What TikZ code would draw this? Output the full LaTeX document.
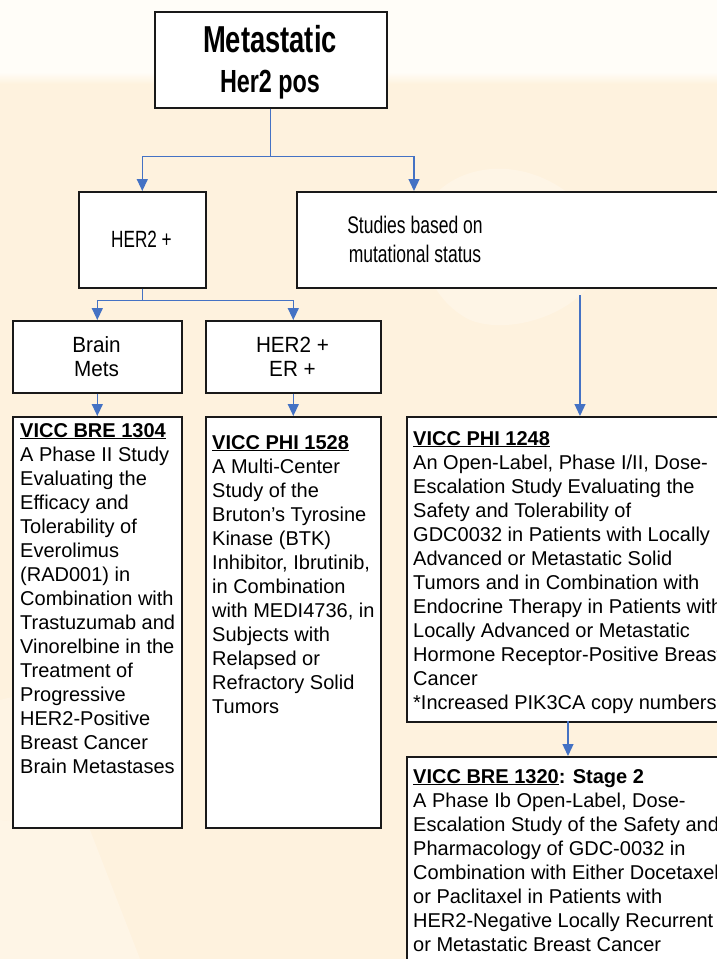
\documentclass[tikz,border=0pt]{standalone}
\usepackage{fontspec}
\setmainfont{Liberation Sans}
\newfontfamily\narrowfont[FakeStretch=0.73]{Liberation Sans}
\newfontfamily\midfont[FakeStretch=0.94]{Liberation Sans}
\usetikzlibrary{arrows.meta}
\definecolor{bgcream}{HTML}{FEF2DE}
\definecolor{bgtop}{HTML}{FFFDF8}
\definecolor{bglight}{HTML}{FFF6E8}
\definecolor{arrowblue}{HTML}{4472C4}
\begin{document}
\begin{tikzpicture}[x=1pt,y=-1pt,
  box/.style={draw=black!90, line width=1.6pt, fill=white, rectangle, inner sep=0pt, anchor=north west},
  arr/.style={draw=arrowblue, line width=1.3pt, -{Triangle[length=12pt,width=11pt]}},
  bodytext/.style={anchor=base west, inner sep=0pt, align=left, font=\fontsize{20}{24}\selectfont},
  headtext/.style={anchor=base, inner sep=0pt, align=center},
]
\useasboundingbox (0,0) rectangle (717,959);
\clip (0,0) rectangle (717,959);
% background
\fill[bgcream] (0,0) rectangle (717,959);
\fill[bglight, opacity=0.8] (430,200) .. controls (470,150) and (560,160) .. (600,230) .. controls (620,300) and (520,340) .. (470,320) .. controls (430,300) and (410,250) .. (430,200) -- cycle;
\fill[bglight, opacity=0.8] (0,820) -- (90,830) -- (140,959) -- (0,959) -- cycle;
\fill[bglight, opacity=0.6] (0,700) -- (40,690) -- (90,830) -- (0,820) -- cycle;
\shade[top color=bgtop, bottom color=bgcream] (0,72) rectangle (717,84);
\fill[bgtop] (0,0) rectangle (717,72.5);

% boxes
\node[box, minimum width=232pt, minimum height=96pt] (top) at (154,11) {};
\node[box, minimum width=127pt, minimum height=96pt] (her) at (78,191) {};
\node[box, minimum width=444pt, minimum height=96pt] (stud) at (296,191) {};
\node[box, minimum width=169pt, minimum height=72pt] (brain) at (12,320) {};
\node[box, minimum width=175pt, minimum height=72pt] (erpos) at (205,320) {};
\node[box, minimum width=169pt, minimum height=411pt] (bre1304) at (12,416) {};
\node[box, minimum width=175pt, minimum height=411pt] (phi1528) at (205,416) {};
\node[box, minimum width=334pt, minimum height=305pt] (phi1248) at (406,416) {};
\node[box, minimum width=334pt, minimum height=260pt] (bre1320) at (406,756) {};

% header texts (base anchor = baseline of last line)
\node[headtext, font=\narrowfont\bfseries\fontsize{37.5}{40}\selectfont] (tmeta) at (270,52) {Metastatic};
\node[headtext, font=\narrowfont\bfseries\fontsize{32}{36}\selectfont] (therpos) at (270,92) {Her2 pos};
\node[headtext, font=\narrowfont\fontsize{23.5}{28}\selectfont] (ther) at (141.5,247) {HER2 +};
\node[headtext, font=\narrowfont\fontsize{24}{29}\selectfont] (tstud) at (415,262) {Studies based on\\mutational status};
\node[headtext, font=\midfont\fontsize{22}{24}\selectfont] (tbrain) at (96.5,376) {Brain\\Mets};
\node[headtext, font=\midfont\fontsize{22}{24}\selectfont] (terpos) at (292.5,376) {HER2 +\\ER +};

% study texts (base anchor = baseline of last line)
\node[bodytext] (tx1304) at (20,773) {\underline{\textbf{VICC BRE 1304}}\\A Phase II Study\\Evaluating the\\Efficacy and\\Tolerability of\\Everolimus\\(RAD001) in\\Combination with\\Trastuzumab and\\Vinorelbine in the\\Treatment of\\Progressive\\HER2-Positive\\Breast Cancer\\Brain Metastases};
\node[bodytext] (tx1528) at (212,713) {\underline{\textbf{VICC PHI 1528}}\\A Multi-Center\\Study of the\\Bruton's Tyrosine\\Kinase (BTK)\\Inhibitor, Ibrutinib,\\in Combination\\with MEDI4736, in\\Subjects with\\Relapsed or\\Refractory Solid\\Tumors};
\node[bodytext] (tx1248) at (413,709) {\underline{\textbf{VICC PHI 1248}}\\An Open-Label, Phase I/II, Dose-\\Escalation Study Evaluating the\\Safety and Tolerability of\\GDC0032 in Patients with Locally\\Advanced or Metastatic Solid\\Tumors and in Combination with\\Endocrine Therapy in Patients with\\Locally Advanced or Metastatic\\Hormone Receptor-Positive Breast\\Cancer\\*Increased PIK3CA copy numbers};
\node[bodytext] (tx1320) at (413,951) {\underline{\textbf{VICC BRE 1320}}\textbf{: Stage 2}\\A Phase Ib Open-Label, Dose-\\Escalation Study of the Safety and\\Pharmacology of GDC-0032 in\\Combination with Either Docetaxel\\or Paclitaxel in Patients with\\HER2-Negative Locally Recurrent\\or Metastatic Breast Cancer};

% connectors
\coordinate (studin) at (414,191);
\coordinate (studout) at (580,295);
\coordinate (p1248in) at (580,416);
\coordinate (p1248out) at (568,721);
\coordinate (b1320in) at (568,756);
\draw[arr] (top.south) -- ++(0,48) -| (her.north);
\draw[arr] (top.south) -- ++(0,48) -| (studin);
\draw[arr] (her.south) -- ++(0,12) -| (brain.north);
\draw[arr] (her.south) -- ++(0,12) -| (erpos.north);
\draw[arr] (brain.south) -- (bre1304.north);
\draw[arr] (erpos.south) -- (phi1528.north);
\draw[arr] (studout) -- (p1248in);
\draw[arr] (p1248out) -- (b1320in);
\end{tikzpicture}
\end{document}
